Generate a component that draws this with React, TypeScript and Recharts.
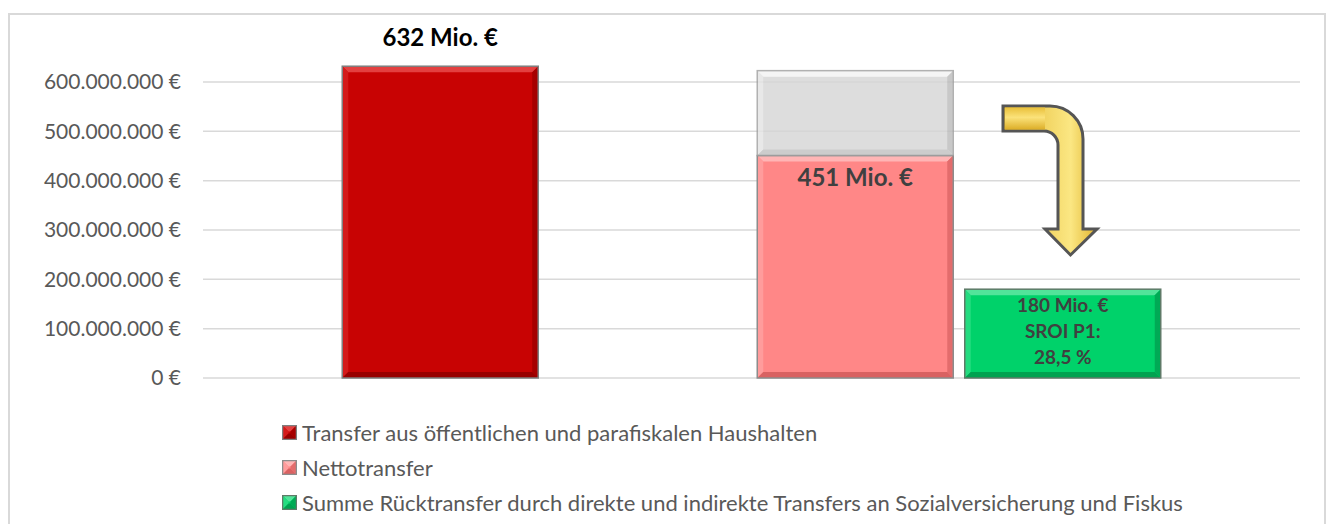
import React from "react";
import {
  Bar,
  BarChart,
  CartesianGrid,
  Customized,
  LabelList,
  Legend,
  XAxis,
  YAxis,
} from "recharts";

// categories: one empty slot keeps the gap between the first and second bar
const categories = ["Transfer", "", "Nettotransfer", "Rücktransfer"];
const transferValues = [632000000, 0, 0, 0];
const nettoValues = [0, 0, 451000000, 0];
const differenceValues = [0, 0, 172000000, 0];
const rueckValues = [0, 0, 0, 180000000];
const yTicks = [0, 100000000, 200000000, 300000000, 400000000, 500000000, 600000000];
const sroiLines = ["SROI P1:", "28,5 %"];
const legendNames = [
  "Transfer aus öffentlichen und parafiskalen Haushalten",
  "Nettotransfer",
  "Summe Rücktransfer durch direkte und indirekte Transfers an Sozialversicherung und Fiskus",
];

const FONT = "Lato, 'Open Sans', sans-serif";

interface Bevel {
  base: string;
  top: string;
  left: string;
  right: string;
  bottom: string;
  stroke: string;
  opacity?: number;
}

const RED: Bevel = { base: "#c80303", top: "#e34040", left: "#d41a1a", right: "#a60000", bottom: "#980000", stroke: "#7f7f7f" };
const PINK: Bevel = { base: "#ff8787", top: "#ffb5b5", left: "#ff9c9c", right: "#e36c6c", bottom: "#d96262", stroke: "#8c8c8c" };
const GRAY: Bevel = { base: "#d6d6d6", top: "#f4f4f4", left: "#e4e4e4", right: "#bdbdbd", bottom: "#c2c2c2", stroke: "#a0a0a0", opacity: 0.82 };
const GREEN: Bevel = { base: "#00d26a", top: "#52e49a", left: "#24dc80", right: "#00aa55", bottom: "#00a250", stroke: "#5f7a68" };

const rows = categories.map((name, i) => ({
  name,
  transfer: transferValues[i],
  netto: nettoValues[i],
  difference: differenceValues[i],
  rueck: rueckValues[i],
}));

function formatEuro(v: number): string {
  return String(v).replace(/\B(?=(\d{3})+(?!\d))/g, ".") + " €";
}

function mio(v: number): string {
  return `${Math.round(v / 1000000)} Mio. €`;
}

function bevelFacets(x: number, y: number, w: number, h: number, c: Bevel, b: number) {
  return (
    <g opacity={c.opacity ?? 1}>
      <rect x={x} y={y} width={w} height={h} fill={c.base} />
      <polygon points={`${x},${y} ${x + w},${y} ${x + w - b},${y + b} ${x + b},${y + b}`} fill={c.top} />
      <polygon points={`${x},${y} ${x + b},${y + b} ${x + b},${y + h - b} ${x},${y + h}`} fill={c.left} />
      <polygon points={`${x + w},${y} ${x + w},${y + h} ${x + w - b},${y + h - b} ${x + w - b},${y + b}`} fill={c.right} />
      <polygon points={`${x},${y + h} ${x + b},${y + h - b} ${x + w - b},${y + h - b} ${x + w},${y + h}`} fill={c.bottom} />
      <rect x={x} y={y} width={w} height={h} fill="none" stroke={c.stroke} strokeWidth={1.5} />
    </g>
  );
}

function bevelShape(c: Bevel) {
  return (props: any) => {
    const { x, y, width, height } = props;
    if (!height || height <= 0.5) return <g />;
    return bevelFacets(x, y, width, height, c, Math.min(6, height / 4));
  };
}

function TopLabel(props: any) {
  const { x, y, width, value } = props;
  if (!value) return null;
  return (
    <text x={x + width / 2} y={y - 20} textAnchor="middle" fill="#000" fontFamily={FONT} fontWeight={700} fontSize={24}>
      {mio(value)}
    </text>
  );
}

function InsideLabel(props: any) {
  const { x, y, width, value } = props;
  if (!value) return null;
  return (
    <text x={x + width / 2} y={y + 30} textAnchor="middle" fill="#404040" fontFamily={FONT} fontWeight={700} fontSize={24}>
      {mio(value)}
    </text>
  );
}

function SroiLabel(props: any) {
  const { x, y, width, value } = props;
  if (!value) return null;
  const lines = [mio(value), ...sroiLines];
  return (
    <text textAnchor="middle" fill="#404040" fontFamily={FONT} fontWeight={700} fontSize={19}>
      {lines.map((l, i) => (
        <tspan key={l} x={x + width / 2} y={y + 23 + i * 26}>
          {l}
        </tspan>
      ))}
    </text>
  );
}

// decorative bent arrow between the net transfer and the return transfer
function BentArrow() {
  const d =
    "M 993,91 L 1040,91 A 33 33 0 0 1 1073,124 L 1073,214 L 1087,214 L 1060.5,240 L 1035,214 L 1048,214 L 1048,130 A 14 14 0 0 0 1034,116 L 993,116 Z";
  return (
    <g>
      <defs>
        <linearGradient id="arrowFill" x1="0" y1="0" x2="1" y2="0">
          <stop offset="0%" stopColor="#e2b52c" />
          <stop offset="72%" stopColor="#fbe783" />
          <stop offset="100%" stopColor="#e0b42e" />
        </linearGradient>
        <linearGradient id="armFill" x1="0" y1="0" x2="0" y2="1">
          <stop offset="0%" stopColor="#e9c03a" />
          <stop offset="45%" stopColor="#fbe27a" />
          <stop offset="100%" stopColor="#dcae28" />
        </linearGradient>
      </defs>
      <path d={d} fill="url(#arrowFill)" stroke="#555555" strokeWidth={3} strokeLinejoin="miter" />
      <rect x={995} y={92.5} width={40} height={22} fill="url(#armFill)" />
    </g>
  );
}

const legendColors = [RED, PINK, GREEN];

function LegendContent() {
  return (
    <div style={{ fontFamily: FONT, fontSize: 22, color: "#595959" }}>
      {legendNames.map((name, i) => (
        <div key={name} style={{ height: 35, display: "flex", alignItems: "center", whiteSpace: "nowrap" }}>
          <svg width={15} height={15} style={{ marginRight: 5, flex: "none" }}>
            {bevelFacets(0.5, 0.5, 14, 14, legendColors[i], 6)}
          </svg>
          <span>{name}</span>
        </div>
      ))}
    </div>
  );
}

export default function App(): React.ReactElement {
  return (
    <div
      style={{
        position: "fixed",
        left: 8,
        top: 13,
        width: 1318,
        height: 520,
        boxSizing: "border-box",
        border: "2px solid #d9d9d9",
        background: "#fff",
      }}
    >
      <BarChart
        width={1314}
        height={515}
        data={rows}
        barSize={196}
        margin={{ top: 17.67, right: 24, bottom: 152, left: 0 }}
      >
        <CartesianGrid vertical={false} stroke="#d9d9d9" strokeWidth={1.5} syncWithTicks />
        <XAxis dataKey="name" hide padding={{ left: 133.25, right: 133.75 }} />
        <YAxis
          width={193}
          domain={[0, 700000000]}
          ticks={yTicks}
          tickFormatter={formatEuro}
          axisLine={false}
          tickLine={false}
          tickSize={0}
          tickMargin={22}
          tick={{ fill: "#595959", fontSize: 21, fontFamily: FONT }}
        />
        <Legend
          layout="vertical"
          align="center"
          verticalAlign="middle"
          content={LegendContent}
          wrapperStyle={{ left: 272, top: 399.5, width: "auto" }}
        />
        <Bar dataKey="transfer" stackId="s" name={legendNames[0]} isAnimationActive={false} shape={bevelShape(RED)}>
          <LabelList dataKey="transfer" content={TopLabel} />
        </Bar>
        <Bar dataKey="netto" stackId="s" name={legendNames[1]} isAnimationActive={false} shape={bevelShape(PINK)}>
          <LabelList dataKey="netto" content={InsideLabel} />
        </Bar>
        <Bar dataKey="difference" stackId="s" legendType="none" isAnimationActive={false} shape={bevelShape(GRAY)} />
        <Bar dataKey="rueck" stackId="s" name={legendNames[2]} isAnimationActive={false} shape={bevelShape(GREEN)}>
          <LabelList dataKey="rueck" content={SroiLabel} />
        </Bar>
        <Customized component={BentArrow} />
      </BarChart>
    </div>
  );
}
